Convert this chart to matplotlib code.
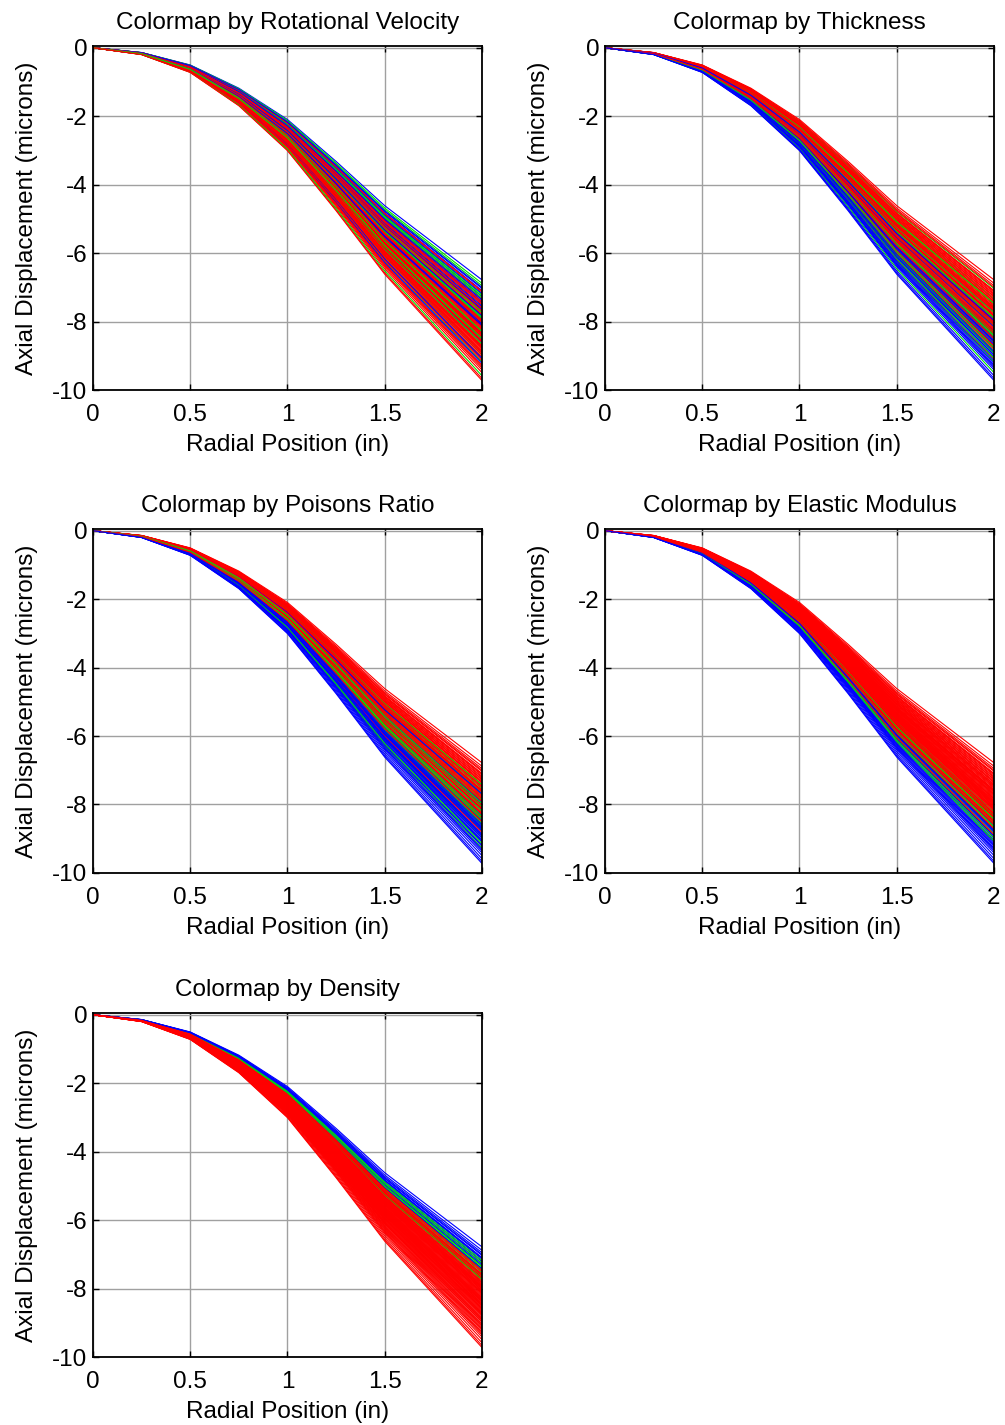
import numpy as np
import matplotlib
matplotlib.use('Agg')
import matplotlib.pyplot as plt

plt.rcParams['font.family'] = ['Liberation Sans', 'DejaVu Sans']
plt.rcParams['axes.unicode_minus'] = False

# --- Data ---
radial_pos = [0, 0.25, 0.5, 0.75, 1.0, 1.25, 1.5, 1.75, 2.0]

# deflection profile of the deepest run (microns), every run has this shape
profile_ref = [0, -0.20, -0.72, -1.69, -3.00, -4.75, -6.60, -8.15, -9.70]

# tip displacement at r = 2 in for each run, in run order
tip_disp = [
    -8.12, -7.45, -9.03, -7.88, -8.57, -6.78, -8.31, -7.62, -9.41, -8.05,
    -7.21, -8.74, -7.96, -8.40, -7.09, -9.18, -8.22, -7.71, -8.63, -7.34,
    -8.91, -7.53, -8.16, -9.66, -7.82, -8.47, -7.27, -8.85, -7.99, -8.36,
    -7.14, -8.69, -7.58, -9.27, -8.01, -7.40, -8.52, -7.76, -9.10, -8.27,
    -6.95, -8.44, -7.67, -8.97, -8.09, -7.31, -8.78, -7.92, -9.49, -8.19,
    -7.50, -8.60, -7.03, -8.33, -7.85, -9.22, -8.49, -7.64, -8.81, -7.18,
    -8.25, -7.73, -9.35, -8.06, -7.42, -8.66, -7.94, -8.38, -6.88, -8.93,
    -7.57, -8.14, -9.07, -7.79, -8.55, -7.25, -8.71, -8.02, -9.58, -7.47,
    -8.43, -7.36, -8.88, -7.69, -8.29, -9.14, -7.90, -8.59, -7.11, -8.98,
    -7.83, -8.35, -7.60, -9.31, -8.11, -7.00, -8.76, -7.97, -8.50, -9.72,
]

# colour class of each run (b = low, g = mid, r = high value of the parameter)
cls_velocity = ("rbrgrbbrrg" "grbrbgrgbr" "rbrrrgbrrb" "rrgrrbbrrg" "grbgrgrbrr"
                "rrbrgbrbrb" "rgrbrgrrgr" "brbrrgrrgr" "rbrrgrgrrr" "brrrbbrrgr")
cls_thickness = ("rrbgbrgrbb" "rrrbrgrbgg" "brgbrrrgrb" "rbgbrrgrrb" "rrrbgrbbgr"
                 "rrggrbbrrr" "rgbrrbrgrg" "rbgrbrrrbg" "grbrrbgbrb" "rrrbrrgbrb")
cls_poisson = ("grbrbrbrbr" "rggrrbrgbr" "bgbbrgrbrg" "rbrgbrrrbr" "rbggrrbrbg"
               "rgrbgbbrrr" "rrbggbbrrb" "rrbrgrbrbr" "grbbrgrbrb" "rgrbrrbgrb")
cls_modulus = ("rrbrgrrrbr" "rbrrrbgrgr" "brrbrrrgrr" "rrrbrrgrbr" "rrrbrrgrbr"
               "rbrgrbrrbr" "rrbrrgrrrb" "rrgrrrrrbr" "grrrrbrrrg" "rrrbrrbrrb")
cls_density = ("rgrrrbrgrr" "brrrbrrrrg" "rgrrgrbrrr" "brrrrgrrrr" "brgrrbrrrr"
               "rrbrrrrrrg" "rgrrbrrrbr" "rrrrrgrrrr" "rgrrrrrrbr" "rrrrrbrrrr")

titles = ['Colormap by Rotational Velocity', 'Colormap by Thickness',
          'Colormap by Poisons Ratio', 'Colormap by Elastic Modulus',
          'Colormap by Density']
classes = [cls_velocity, cls_thickness, cls_poisson, cls_modulus, cls_density]

COLORS = {'b': '#0000ff', 'g': '#00e000', 'r': '#ff0000'}
FS = 17.5

# axes boxes in figure fractions (left, bottom, width, height)
W, H = 0.387, 0.2414
boxes = [(0.0925, 0.7263, W, H), (0.602, 0.7263, W, H),
         (0.0925, 0.3874, W, H), (0.602, 0.3874, W, H),
         (0.0925, 0.0477, W, H)]

fig = plt.figure(figsize=(10.05, 14.25), dpi=100)

r = np.array(radial_pos)
prof = np.array(profile_ref)

for title, cls, box in zip(titles, classes, boxes):
    ax = fig.add_axes(box)
    for tip, c in zip(tip_disp, cls):
        ax.plot(r, prof * (tip / prof[-1]), color=COLORS[c], lw=0.8)

    ax.set_xlim(0, 2)
    ax.set_ylim(-10, 0.05)
    ax.set_xticks([0, 0.5, 1, 1.5, 2])
    ax.set_xticklabels(['0', '0.5', '1', '1.5', '2'])
    ax.set_yticks([-10, -8, -6, -4, -2, 0])
    ax.grid(True, color='#a0a0a0', lw=1.0)
    ax.set_axisbelow(True)
    ax.tick_params(direction='in', length=4, width=1, top=True, right=True,
                   labelsize=FS)
    ax.tick_params(axis='x', pad=10)
    ax.tick_params(axis='y', pad=4)
    for s in ax.spines.values():
        s.set_linewidth(1.3)
    ax.set_title(title, fontsize=FS, pad=12)
    ax.set_xlabel('Radial Position (in)', fontsize=FS, labelpad=6)
    ax.set_ylabel('Axial Displacement (microns)', fontsize=FS, labelpad=10)

fig.savefig('out.png', dpi=100)
